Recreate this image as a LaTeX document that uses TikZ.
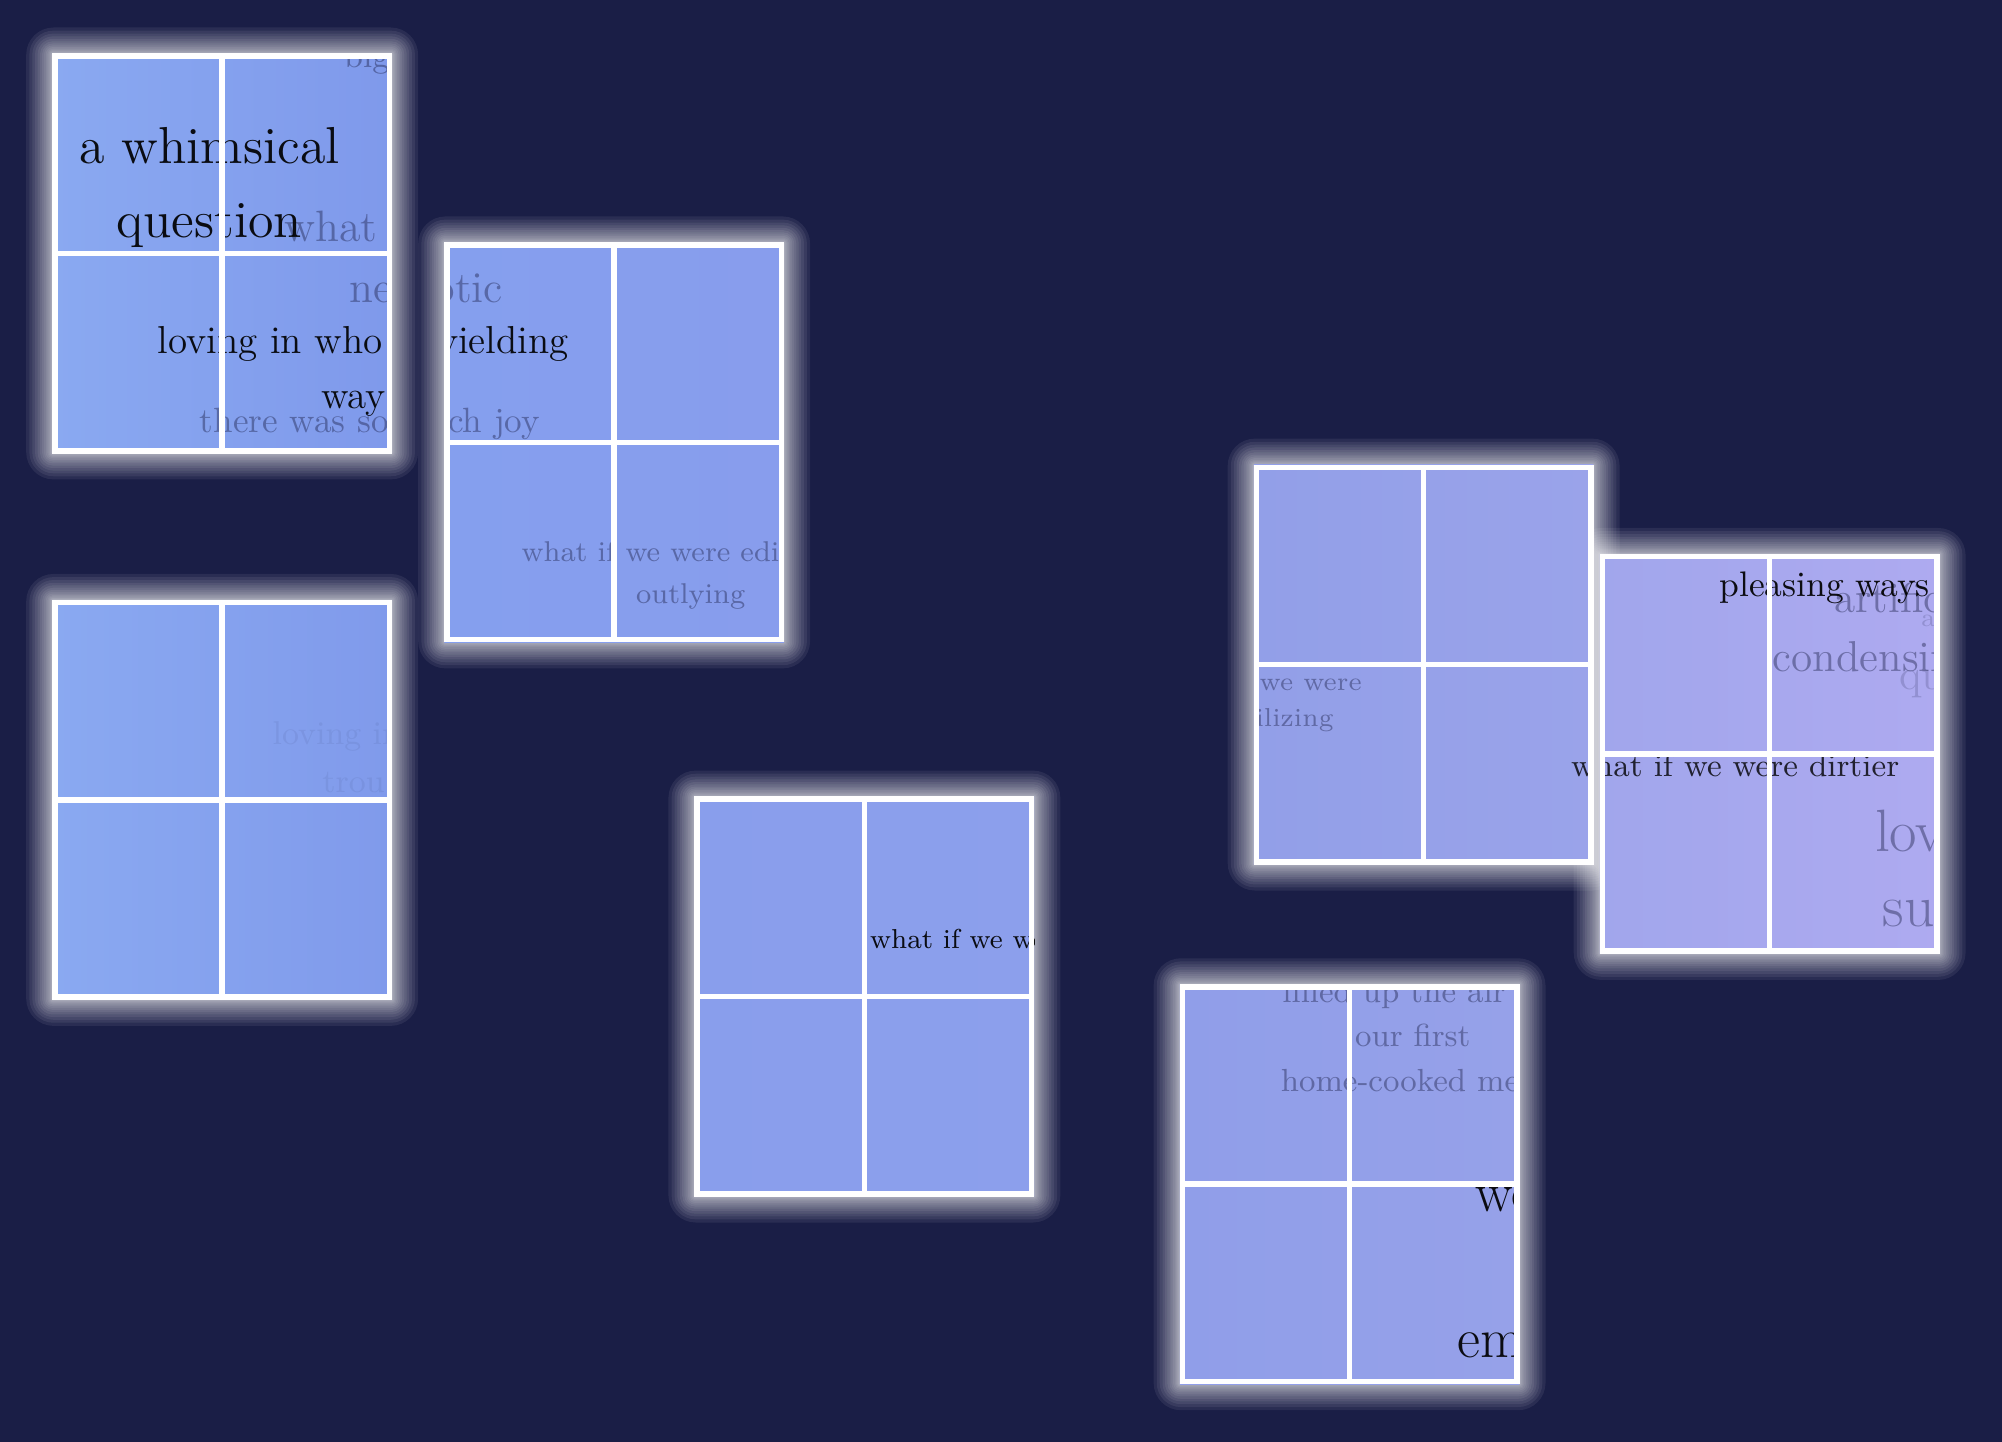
\documentclass[tikz,border=0pt]{standalone}
\usepackage{xcolor}
\usepackage{tikz}
\usetikzlibrary{calc}

\definecolor{colBg}{HTML}{1A1E46}
\definecolor{colInk}{HTML}{1A1E46}
\definecolor{colAL}{HTML}{8AA9F1}
\definecolor{colAR}{HTML}{7F99EB}
\definecolor{colBL}{HTML}{859FEE}
\definecolor{colBR}{HTML}{889DED}
\definecolor{colCL}{HTML}{8AA9F1}
\definecolor{colCR}{HTML}{809AEB}
\definecolor{colDL}{HTML}{899EEC}
\definecolor{colDR}{HTML}{8C9FEC}
\definecolor{colEL}{HTML}{929FE8}
\definecolor{colER}{HTML}{9AA3EA}
\definecolor{colFL}{HTML}{A1A6EC}
\definecolor{colFR}{HTML}{AEAAF0}
\definecolor{colGL}{HTML}{909EE9}
\definecolor{colGR}{HTML}{96A1E9}

\newlength{\unitpx}
\setlength{\unitpx}{0.12768mm}
\newcommand{\fsz}[1]{\fontsize{#1}{#1}\selectfont}

\tikzset{
	cardLine/.style={white, line width=4.4\unitpx},
	ink/.style={inner sep=0pt, text=black, text opacity=.92},
	inkDim/.style={inner sep=0pt, text=black, text opacity=.8},
	inkGrey/.style={inner sep=0pt, text=colInk, text opacity=.42},
	inkPale/.style={inner sep=0pt, text=colInk, text opacity=.18},
	inkFaint/.style={inner sep=0pt, text=colInk, text opacity=.07},
}

\begin{document}
\begin{tikzpicture}[x=0.12768mm, y=-0.12768mm]
		\useasboundingbox (0,0) rectangle (1568,1129);
		\fill[colBg] (0,0) rectangle (1568,1129);

		\coordinate (cardA) at (41,42);
		\coordinate (cardB) at (348,190);
		\coordinate (cardC) at (41,470);
		\coordinate (cardD) at (544,624);
		\coordinate (cardE) at (982,364);
		\coordinate (cardF) at (1253,434);
		\coordinate (cardG) at (924,771);

		\begin{scope}[white]
			\foreach \c in {A,B,C,D,E,F,G}
				\foreach \g in {1,...,16} {
					\pgfmathsetmacro{\go}{0.08*\g*\g}
					\pgfmathsetmacro{\gr}{0.03*\g*\g+0.1}
					\fill[opacity=.07, rounded corners=\gr pt] ($(card\c)+(-\go,-\go)$) rectangle ($(card\c)+(266+\go,313+\go)$);
				}
		\end{scope}

		\foreach \c/\l/\r in {A/colAL/colAR, B/colBL/colBR, C/colCL/colCR, D/colDL/colDR, E/colEL/colER, F/colFL/colFR, G/colGL/colGR}
			\shade[left color=\l, right color=\r] (card\c) rectangle ++(266,313);

		\begin{scope}
			\clip (cardA) rectangle ++(266,313) (cardB) rectangle ++(266,313)
				(cardC) rectangle ++(266,313) (cardD) rectangle ++(266,313)
				(cardE) rectangle ++(266,313) (cardF) rectangle ++(266,313)
				(cardG) rectangle ++(266,313);

			\node[inkGrey, anchor=base west, font=\fsz{9.4}] (big) at (269,53) {big};
			\node[inkGrey, anchor=base west, font=\fsz{12.5}] (what) at (222,189) {what};
			\node[inkGrey, anchor=base, font=\fsz{12.5}] (neurotic) at (334,237) {neurotic};
			\node[ink, anchor=base, font=\fsz{14.8}] (whimsical) at (164,128) {a whimsical};
			\node[ink, anchor=base, font=\fsz{14.8}] (question) at (164,186) {question};
			\node[inkGrey, anchor=base west, font=\fsz{10}] (joy) at (156,339) {there was so much joy};
			\node[ink, anchor=base west, font=\fsz{11.1}] (loving) at (123,277) {loving in who};
			\node[ink, anchor=base east, font=\fsz{11.1}] (yielding) at (446,277) {yielding};
			\node[ink, anchor=base east, font=\fsz{11.1}] (way) at (303,320) {way};
			\node[inkGrey, anchor=base west, font=\fsz{8.15}] (edit) at (408,440) {what if we were edit};
			\node[inkGrey, anchor=base, font=\fsz{8.15}] (outlying) at (541,473) {outlying};

			\node[inkFaint, anchor=base west, font=\fsz{9.4}] (lovingFaint) at (213,583) {loving in};
			\node[inkFaint, anchor=base west, font=\fsz{9.4}] (trou) at (252,621) {trou};

			\node[ink, anchor=base west, font=\fsz{7.8}] (whatIf) at (681,743) {what if we were};

			\node[inkGrey, anchor=base west, font=\fsz{7.4}] (weWere) at (986,541) {we were};
			\node[inkGrey, anchor=base east, font=\fsz{7.4}] (utilizing) at (1045,569) {utilizing};

			\node[inkGrey, anchor=base west, font=\fsz{12.3}] (artificial) at (1436,480) {artificial};
			\node[inkPale, anchor=base west, font=\fsz{7.3}] (faintA) at (1504,491) {a};
			\node[ink, anchor=base east, font=\fsz{10.1}] (pleasing) at (1512,467) {pleasing ways};
			\node[inkGrey, anchor=base west, font=\fsz{12.3}] (condensing) at (1388,526) {condensing};
			\node[inkPale, anchor=base west, font=\fsz{12.3}] (qu) at (1487,540) {qu};
			\node[inkDim, anchor=base east, font=\fsz{9.15}] (dirtier) at (1488,608) {what if we were dirtier};
			\node[inkGrey, anchor=base west, font=\fsz{17}] (lov) at (1468,667) {lov};
			\node[inkGrey, anchor=base west, font=\fsz{17}] (su) at (1474,726) {su};

			\node[inkGrey, anchor=base, font=\fsz{9.1}] (filled) at (1106.5,785) {filled up the air of};
			\node[inkGrey, anchor=base, font=\fsz{9.1}] (first) at (1106.5,820) {our first};
			\node[inkGrey, anchor=base, font=\fsz{9.1}] (meal) at (1106.5,855) {home-cooked meal};
			\node[ink, anchor=base west, font=\fsz{16}] (we) at (1155,949) {we};
			\node[ink, anchor=base west, font=\fsz{16}] (em) at (1141,1063) {em};
		\end{scope}

		\foreach \c in {A,B,C,D,E,F,G} {
			\draw[cardLine] ($(card\c)+(2,2)$) rectangle ($(card\c)+(264,311)$);
			\draw[cardLine] ($(card\c)+(133,0)$) -- ++(0,313);
			\draw[cardLine] ($(card\c)+(0,156.5)$) -- ++(266,0);
		}
	\end{tikzpicture}
\end{document}
